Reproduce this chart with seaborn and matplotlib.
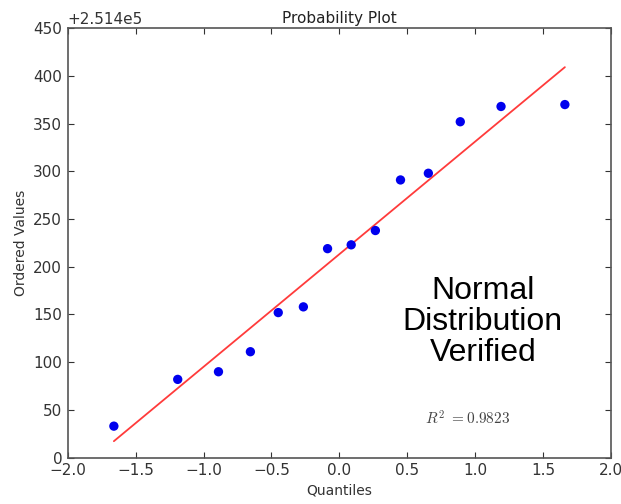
import numpy as np
import pandas as pd
import matplotlib
matplotlib.use('Agg')
import matplotlib.pyplot as plt
import seaborn as sns

sns.set_style('ticks')
plt.rcParams['font.family'] = ['DejaVu Sans']
plt.rcParams['mathtext.fontset'] = 'cm'

# theoretical quantiles and ordered sample values (shown relative to the 2.514e5 offset)
quantiles = [-1.66, -1.19, -0.89, -0.655, -0.45, -0.265, -0.087,
             0.087, 0.265, 0.45, 0.655, 0.89, 1.19, 1.66]
ordered_rel = [33, 82, 90, 111, 152, 158, 219, 223, 238, 291, 298, 352, 368, 370]
offset = 251400
r_squared = 0.9823

df = pd.DataFrame({'q': quantiles, 'v': np.array(ordered_rel) + offset})
slope, intercept = np.polyfit(df['q'], df['v'], 1)
fit = pd.DataFrame({'q': [quantiles[0], quantiles[-1]]})
fit['v'] = slope * fit['q'] + intercept

fig = plt.figure(figsize=(6.21, 5.04), dpi=100)
ax = fig.add_axes([0.109, 0.092, 0.875, 0.852])

sns.lineplot(data=fit, x='q', y='v', color='#ff3b3b', linewidth=1.3, ax=ax)
sns.scatterplot(data=df, x='q', y='v', color='#0000ee', edgecolor='none', s=45, ax=ax, zorder=3)

ax.set_xlim(-2.0, 2.0)
ax.set_ylim(offset, offset + 450)
ax.set_xticks(np.arange(-2.0, 2.01, 0.5))
ax.set_yticks(np.arange(offset, offset + 451, 50))
ax.ticklabel_format(axis='y', useOffset=offset, style='plain')
ax.yaxis.get_offset_text().set_fontsize(11)
ax.yaxis.get_offset_text().set_color('#333333')

ax.tick_params(direction='in', top=True, right=True, length=4, width=0.8,
               labelsize=11, colors='#333333', pad=4)
for s in ax.spines.values():
    s.set_color('#555555')
    s.set_linewidth(1.2)

ax.set_title('Probability Plot', fontsize=11, color='#222222', pad=4)
ax.set_xlabel('Quantiles', fontsize=10, color='#333333', labelpad=4)
ax.set_ylabel('Ordered Values', fontsize=10, color='#333333', labelpad=4)

ax.text(1.056, offset + 142, 'Normal\nDistribution\nVerified', ha='center', va='center',
        fontsize=23, family='Liberation Sans', color='black', linespacing=1.05)
ax.text(0.946, offset + 41, r'$R^2\ =0.9823$', ha='center', va='center',
        fontsize=11, color='#444444')

fig.savefig('out.png', dpi=100)
